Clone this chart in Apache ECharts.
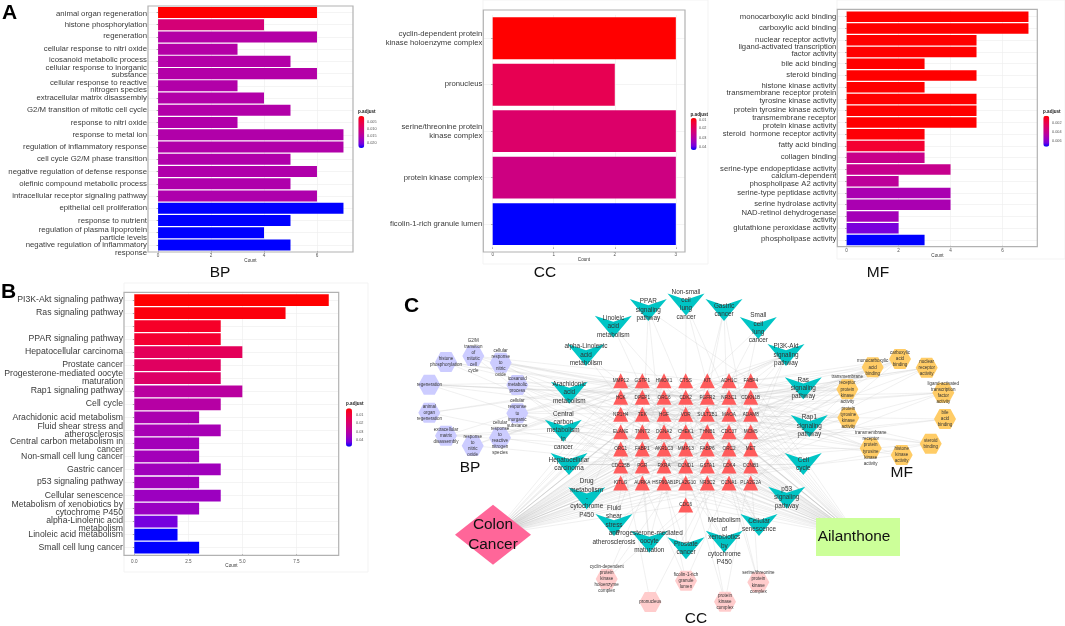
<!DOCTYPE html>
<html><head><meta charset="utf-8">
<style>html,body{margin:0;padding:0;background:#fff}#c{width:1065px;height:626px}</style>
<script src="https://cdn.jsdelivr.net/npm/echarts@6/dist/echarts.min.js"></script>
</head><body><div id="c"></div>
<script>
// ---------- bar chart data ----------
const bpTerms = ['animal organ regeneration','histone phosphorylation','regeneration','cellular response to nitri oxide','icosanoid metabolic process','cellular response to inorganic\nsubstance','cellular response to reactive\nnitrogen species','extracellular matrix disassembly','G2/M transition of mitotic cell cycle','response to nitri oxide','response to metal ion','regulation of inflammatory response','cell cycle G2/M phase transition','negative regulation of defense response','olefinic compound metabolic process','intracellular receptor signaling pathway','epithelial cell proliferation','response to nutrient','regulation of plasma lipoprotein\nparticle levels','negative regulation of inflammatory\nresponse'];
const bpCounts = [6,4,6,3,5,6,3,4,5,3,7,7,5,6,5,6,7,5,4,5];
const bpPadj = [0.0005,0.0105,0.0155,0.0155,0.0156,0.0156,0.0157,0.0157,0.0157,0.0158,0.0158,0.0158,0.0159,0.0159,0.0160,0.0161,0.0243,0.0243,0.0243,0.0243];
const ccTerms = ['cyclin-dependent protein\nkinase holoenzyme complex','pronucleus','serine/threonine protein\nkinase complex','protein kinase complex','ficolin-1-rich granule lumen'];
const ccCounts = [3,2,3,3,3];
const ccPadj = [0.0090,0.0180,0.0214,0.0252,0.0435];
const mfTerms = ['monocarboxylic acid binding','carboxylic acid binding','nuclear receptor activity','ligand-activated transcription\nfactor activity','bile acid binding','steroid binding','histone kinase activity','transmembrane receptor protein\ntyrosine kinase activity','protein tyrosine kinase activity','transmembrane receptor\nprotein kinase activity','steroid  hormone receptor activity','fatty acid binding','collagen binding','serine-type endopeptidase activity','calcium-dependent\nphospholipase A2 activity','serine-type peptidase activity','serine hydrolase activity','NAD-retinol dehydrogenase\nactivity','glutathione peroxidase activity','phospholipase activity'];
const mfCounts = [7,7,5,5,3,5,3,5,5,5,3,3,3,4,2,4,4,2,2,3];
const mfPadj = [0.0002,0.0002,0.0002,0.0002,0.0002,0.0002,0.0002,0.0002,0.0002,0.0002,0.0003,0.0011,0.0038,0.0039,0.0043,0.0050,0.0050,0.0052,0.0063,0.0073];
const kegTerms = ['PI3K-Akt signaling pathway','Ras signaling pathway',' ','PPAR signaling pathway','Hepatocellular carcinoma','Prostate cancer','Progesterone-mediated oocyte\nmaturation','Rap1 signaling pathway','Cell cycle','Arachidonic acid metabolism','Fluid shear stress and\natherosclerosis','Central carbon metabolism in\ncancer','Non-small cell lung cancer','Gastric cancer','p53 signaling pathway','Cellular senescence','Metabolism of xenobiotics by\ncytochrome P450','alpha-Linolenic acid\nmetabolism','Linoleic acid metabolism','Small cell lung cancer'];
const kegCounts = [9,7,4,4,5,4,4,5,4,3,4,3,3,4,3,4,3,2,2,3];
const kegPadj = [0.0023,0.0037,0.0069,0.0080,0.0155,0.0169,0.0182,0.0296,0.0305,0.0328,0.0337,0.0346,0.0346,0.0351,0.0351,0.0360,0.0364,0.0419,0.0478,0.0478];
const bpLegendTicks = ['0.005','0.010','0.015','0.020'];
const ccLegendTicks = ['0.01','0.02','0.03','0.04'];
const mfLegendTicks = ['0.002','0.004','0.006'];
const kegLegendTicks = ['0.01','0.02','0.03','0.04'];

// ---------- network data ----------
const geneRows = [
 ['MMP12','GSTP1','HMOX1','CTSS','KIT','ADH1C','FABP4'],
 ['HCK','DPEP1','ORC6','CDK2','FGFR2','NR3C1','CDKN1B'],
 ['NR1H4','TEK','HGF','VDR','SULT2B1','MAOA','ADAM8'],
 ['ELANE','TNNT2','DGNA2','CHEK1','THNB1','CDC37','MCM5'],
 ['ORC1','FABP1','AKR1C3','MMP13','FABP6','ORC2','MET'],
 ['CDC25B','PGR','RXRA','CCND1','GSTA1','CDK4','CCNB1'],
 ['KITLG','AURKA','HSP90AB1','PLA2G10','NR3C2','CCNA1','PLA2G2A']];
const loneGene = 'CDC6';
const bpNodes = ['histone\nphosphorylation','G2/M\ntransition\nof\nmitotic\ncell\ncycle','cellular\nresponse\nto\nnitric\noxide','icosanoid\nmetabolic\nprocess','regeneration','animal\norgan\nregeneration','cellular\nresponse\nto\ninorganic\nsubstance','extracellular\nmatrix\ndisassembly','response\nto\nnitric\noxide','cellular\nresponse\nto\nreactive\nnitrogen\nspecies'];
const mfNodes = ['monocarboxylic\nacid\nbinding','carboxylic\nacid\nbinding','nuclear\nreceptor\nactivity','ligand-activated\ntranscription\nfactor\nactivity','bile\nacid\nbinding','steroid\nbinding','histone\nkinase\nactivity','transmembrane\nreceptor\nprotein\ntyrosine\nkinase\nactivity','protein\ntyrosine\nkinase\nactivity','transmembrane\nreceptor\nprotein\nkinase\nactivity'];
const ccNodes = ['cyclin-dependent\nprotein\nkinase\nholoenzyme\ncomplex','pronucleus','ficolin-1-rich\ngranule\nlumen','protein\nkinase\ncomplex','serine/threonine\nprotein\nkinase\ncomplex'];
const pathNodes = ['Non-small\ncell\nlung\ncancer','PPAR\nsignaling\npathway','Linoleic\nacid\nmetabolism','alpha-Linolenic\nacid\nmetabolism','Arachidonic\nacid\nmetabolism','Central\ncarbon\nmetabolism\nin\ncancer','Gastric\ncancer','Small\ncell\nlung\ncancer','PI3K-Akt\nsignaling\npathway','Ras\nsignaling\npathway','Rap1\nsignaling\npathway','Hepatocellular\ncarcinoma','Cell\ncycle','Drug\nmetabolism\n-\ncytochrome\nP450','p53\nsignaling\npathway','Fluid\nshear\nstress\nand\natherosclerosis','Progesterone-mediated\noocyte\nmaturation','Prostate\ncancer','Metabolism\nof\nxenobiotics\nby\ncytochrome\nP450','Cellular\nsenescence'];
const bpLinks = [
 ['CDK2','CCND1','HGF','FGFR2'],
 ['AURKA','CHEK1','CDK2','KIT'],
 ['CCND1','CDK2','CDKN1B','HGF','FGFR2'],
 ['CCNB1','CDK2','CCNA1','CHEK1','AURKA'],
 ['CDK2','CCND1','HGF','FGFR2','HMOX1','NR3C1'],
 ['HMOX1','GSTP1','CCND1'],
 ['HMOX1','GSTP1','CCND1','MMP13','VDR','NR3C1'],
 ['MMP12','MMP13','ELANE','ADAM8'],
 ['HMOX1','GSTP1','CCND1'],
 ['HMOX1','GSTP1','CCND1']];
const mfLinks = [
 ['FABP4','FABP1','FABP6','AKR1C3','NR1H4','PLA2G10','PLA2G2A'],
 ['FABP4','FABP1','FABP6','AKR1C3','NR1H4','PLA2G10','PLA2G2A'],
 ['NR3C1','NR3C2','NR1H4','VDR','RXRA'],
 ['NR3C1','NR3C2','NR1H4','VDR','RXRA'],
 ['FABP1','FABP6','NR1H4'],
 ['VDR','PGR','NR3C1','NR3C2','NR1H4'],
 ['CHEK1','AURKA','CDK2'],
 ['KIT','MET','FGFR2','TEK','HCK'],
 ['KIT','MET','FGFR2','TEK','HCK'],
 ['KIT','MET','FGFR2','TEK','HCK']];
const ccLinks = [
 ['CDK2','CCND1','CDK4'],
 ['ORC1','ORC2'],
 ['CCNA1','ELANE','HSP90AB1'],
 ['CDK2','CCND1','CCNB1'],
 ['CDK4','CCNA1','CCNB1']];
const pathLinks = [
 ['CDK4','CCND1','MET'],
 ['FABP4','FABP1','FABP6','RXRA'],
 ['PLA2G10','PLA2G2A'],
 ['PLA2G10','PLA2G2A'],
 ['PLA2G10','PLA2G2A','AKR1C3'],
 ['KIT','MET','FGFR2'],
 ['CCND1','CDK4','FGFR2','MET'],
 ['CDK2','CDK4','CCND1'],
 ['KIT','KITLG','FGFR2','HGF','CDK2','CDK4','CCND1','MET','TEK'],
 ['KIT','KITLG','FGFR2','HGF','MET','TEK','PLA2G10'],
 ['KIT','KITLG','FGFR2','HGF','TEK'],
 ['CCND1','CDK4','GSTP1','GSTA1','MET'],
 ['CDK2','CDK4','CCND1','CHEK1'],
 ['GSTP1','MAOA','ADH1C','GSTA1'],
 ['CDK2','CCND1','CHEK1'],
 ['GSTP1','GSTA1','HMOX1','HSP90AB1'],
 ['CDK2','CCNB1','PGR','AURKA'],
 ['CDK2','CCND1','CDKN1B','HSP90AB1'],
 ['GSTP1','GSTA1','AKR1C3'],
 ['CDK2','CDK4','CCND1','CHEK1']];

// ---------- layout of the network (hidden axes, units = px) ----------
const colX = [620.7,642.3,664,685.7,707.3,729,750.7];
const rowY = [380.7,397.3,414.3,431.7,449,466,483];
const lonePos = [685.7,505];
const bpPos = [[446,362],[473.3,356],[500.7,362.7],[517.3,385],[429.3,384.7],[429.3,412.7],[517.3,413.3],[446,435.7],[472.7,445.7],[500,437.7]];
const mfPos = [[872.7,367.3],[900,359],[926.7,367.7],[943.3,392.7],[945,419],[930.7,443.7],[901.7,455],[870.7,448.3],[848.3,417.7],[847.3,389.3]];
const ccPos = [[606.7,579],[650.3,602],[686,580.7],[725,601.7],[758.3,582.3]];
const pathPos = [[686,304.5],[648.3,310],[613.3,326.7],[586,355],[569.3,392.7],[563.3,430.7],[724,310],[758.3,328],[786,355],[803.3,388.3],[809.3,426],[569,464],[803.3,464],[586.7,498.3],[786.7,497.7],[614,525],[649.3,541.7],[686,548.3],[724.3,541.7],[759,525]];
const colonPos = [493,534.7], ailanPos = [858,537];
// hand-placed label offsets seen in the figure (px, negative = up)
const bpNudge = [1,0,-1,0,-2,-2,0.7,0,-0.7,0,0,0,0,0,0,0,0,0,1,3.7];
const ccNudge = [0,-0.7,0,0,0];
const mfNudge = [0,-1,-0.7,-1.7,0,-0.7,-1.3,-1.8,-0.7,-0.7,-0.3,-1,-1,-1,-1.2,-0.3,-1,0,0,-0.7];
const kegNudge = [0,-0.7,0,-0.3,-0.7,-0.7,-0.3,-0.3,-0.7,0,0,2.3,0,-0.3,-1,0,0.3,2.5,0.3,0.3];

const FONT = '"Liberation Sans", Arial, sans-serif';
const HEX = 'path://M25,0 L75,0 L100,50 L75,100 L25,100 L0,50 Z';
const VEE = 'path://M0,0 L50,28 L100,0 L50,100 Z';
// ggplot's red-to-blue ramp is interpolated in Lab space
const RAMP = ['#ff0000','#f40031','#e80050','#da006c','#c90088','#b500a5','#9a00c2','#7500df','#0000ff'];

// ---------- network build ----------
const nodes = [], links = [];
function addNode(name, pos, symbol, size, color, fontSize, lineHeight, extra) {
  nodes.push({name, value:pos, symbol, symbolSize:size, itemStyle:{color},
    label:Object.assign({show:true, position:'inside', formatter:'{b}', color:'#333', fontSize, lineHeight, fontFamily:FONT},extra||{})});
}
geneRows.forEach((row,r)=>row.forEach((g,c)=>addNode(g,[colX[c],rowY[r]],'triangle',[15,15],'#ff5c5c',4.7,6)));
addNode(loneGene,lonePos,'triangle',[15,15],'#ff5c5c',4.7,6);
function group(labels,pos,lk,symbol,size,color,fs,lh){
  labels.forEach((l,i)=>{addNode(l,pos[i],symbol,size,color,fs,lh);
    lk[i].forEach(g=>links.push({source:l,target:g,lineStyle:{color:'#c4c4c4',width:.5,opacity:.5}}));});
}
group(bpNodes,bpPos,bpLinks,HEX,[22,20],'#ccccff',4.5,6.1);
group(mfNodes,mfPos,mfLinks,HEX,[22,20],'#ffcc66',4.5,6.1);
group(ccNodes,ccPos,ccLinks,HEX,[22,20],'#ffcccc',4.5,6.1);
group(pathNodes,pathPos,pathLinks,VEE,[37,22],'#00c5c5',6.4,8.4);
const allGenes = geneRows.flat().concat(loneGene);
addNode('Colon\nCancer',colonPos,'diamond',[76,60],'#ff6699',15.4,20.5,{color:'#111'});
addNode('Ailanthone',ailanPos,'rect',[84,38],'#ccff99',15.4,18,{color:'#111',offset:[-4,0]});
allGenes.forEach(g=>{
  links.push({source:'Colon\nCancer',target:g,lineStyle:{color:'#a0a0a0',width:.5,opacity:.32}});
  links.push({source:'Ailanthone',target:g,lineStyle:{color:'#a0a0a0',width:.5,opacity:.32}});
});

// ---------- panels ----------
const panels = [
 {terms:bpTerms,counts:bpCounts,padj:bpPadj,nudge:bpNudge,box:[148,6,205,246],band:[6.3,244.8],xr:[-0.38,7.36],ticks:[0,2,4,6],fs:7.8,lh:7.4,
  tickFmt:v=>String(v),vm:[358.3,116,32,0.0005,0.0243],legendTicks:bpLegendTicks,legendY:[122,128.7,135.7,142.7],titleY:112,titleX:358,labelX:367,xTitle:[250.5,261],tickY:2.5,outer:null},
 {terms:ccTerms,counts:ccCounts,padj:ccPadj,nudge:ccNudge,box:[483.3,10,201.7,242],band:[15,232.4],xr:[-0.154,3.15],ticks:[0,1,2,3],fs:7.7,lh:9.3,
  tickFmt:v=>String(v),vm:[690.7,118,32,0.009,0.0435],legendTicks:ccLegendTicks,legendY:[119.5,128,137.5,146.7],titleY:115,titleX:690.5,labelX:699,xTitle:[584,260],tickY:5,outer:[483,0,225,264]},
 {terms:mfTerms,counts:mfCounts,padj:mfPadj,nudge:mfNudge,box:[837.3,9.3,200,237.4],band:[10.8,235],xr:[-0.36,7.34],ticks:[0,2,4,6],fs:7.7,lh:7.5,
  tickFmt:v=>String(v),vm:[1043.3,115.7,31,0.0002,0.0073],legendTicks:mfLegendTicks,legendY:[123.3,132.3,140.7],titleY:112,titleX:1043,labelX:1052,xTitle:[937.5,255.5],tickY:2,outer:[837,0,228,259]},
 {terms:kegTerms,counts:kegCounts,padj:kegPadj,nudge:kegNudge,box:[124,292.3,214.7,263],band:[293.5,260.7],xr:[-0.477,9.46],ticks:[0,2.5,5,7.5],fs:8.7,lh:8,
  tickFmt:v=>v.toFixed(1),vm:[346,408.3,38.4,0.0023,0.0478],legendTicks:kegLegendTicks,legendY:[415,423.3,431.7,440],titleY:403.7,titleX:346,labelX:356,xTitle:[231.5,566],tickY:5,outer:[124,283,244,289]}
];

const grid=[],xAxis=[],yAxis=[],series=[],visualMap=[],graphic=[];
panels.forEach((p,i)=>{
  grid.push({left:p.box[0],width:p.box[2],top:p.band[0],height:p.band[1],containLabel:false});
  xAxis.push({type:'value',gridIndex:i,min:p.xr[0],max:p.xr[1],
    axisLine:{show:false},
    axisTick:{show:true,length:1.5,customValues:p.ticks,lineStyle:{color:'#555',width:.5}},
    axisLabel:{show:true,customValues:p.ticks,formatter:p.tickFmt,fontSize:4.6,color:'#555',margin:p.tickY,fontFamily:FONT,hideOverlap:false,showMinLabel:true,showMaxLabel:true},
    splitLine:{show:true,lineStyle:{color:'#ececec',width:.6}}});
  // a spacer line, of twice the offset, above or below a label moves it by the offset
  const rich={t:{fontSize:p.fs,lineHeight:p.lh,color:'#3a3a3a',fontFamily:FONT,align:'right'}};
  p.nudge.forEach((n,k)=>{if(n)rich['g'+k]={fontSize:1,lineHeight:2*Math.abs(n),color:'rgba(0,0,0,0)'};});
  yAxis.push({type:'category',gridIndex:i,inverse:true,data:p.terms,
    axisLine:{show:false},
    axisTick:{show:true,length:1.5,alignWithLabel:true,lineStyle:{color:'#555',width:.5}},
    axisLabel:{interval:0,fontSize:p.fs,lineHeight:p.lh,color:'#3a3a3a',margin:1,fontFamily:FONT,rich,
      formatter:(v,idx)=>{
        const n=p.nudge[idx], body=v.split('\n').map(s=>'{t|'+s+'}').join('\n');
        return n>0?'{g'+idx+'| }\n'+body:(n<0?body+'\n{g'+idx+'| }':body);
      }},
    splitLine:{show:true,alignWithLabel:true,lineStyle:{color:'#ececec',width:.6}}});
  series.push({type:'bar',xAxisIndex:i,yAxisIndex:i,barCategoryGap:'10%',silent:true,
    encode:{x:0,y:1},data:p.counts.map((c,k)=>[c,k,p.padj[k]])});
  visualMap.push({type:'continuous',seriesIndex:i,dimension:2,min:p.vm[3],max:p.vm[4],inverse:true,
    left:p.vm[0],top:p.vm[1],itemWidth:6,itemHeight:p.vm[2],padding:0,calculable:false,text:null,showLabel:false,
    inRange:{color:RAMP},textStyle:{fontSize:1,color:'#fff'}});
  if(p.outer) graphic.push({type:'rect',silent:true,z:-1,shape:{x:p.outer[0],y:p.outer[1],width:p.outer[2],height:p.outer[3]},style:{fill:'none',stroke:'#f3f3f3',lineWidth:1}});
  graphic.push({type:'rect',silent:true,z:50,shape:{x:p.box[0],y:p.box[1],width:p.box[2],height:p.box[3]},style:{fill:'none',stroke:'#b2b2b2',lineWidth:1.2}});
  graphic.push({type:'text',silent:true,z:50,x:p.titleX,y:p.titleY,style:{text:'p.adjust',font:'bold 4.6px '+FONT,fill:'#222',textVerticalAlign:'middle'}});
  p.legendTicks.forEach((t,k)=>graphic.push({type:'text',silent:true,z:50,x:p.labelX,y:p.legendY[k],style:{text:t,font:'3.8px '+FONT,fill:'#555',textVerticalAlign:'middle'}}));
  graphic.push({type:'text',silent:true,z:50,x:p.xTitle[0],y:p.xTitle[1],style:{text:'Count',font:'4.6px '+FONT,fill:'#333',textAlign:'center',textVerticalAlign:'middle'}});
});
// hidden axes for the network
grid.push({left:0,top:0,width:1065,height:626,show:false});
xAxis.push({type:'value',gridIndex:4,min:0,max:1065,show:false});
yAxis.push({type:'value',gridIndex:4,min:0,max:626,inverse:true,show:false});
series.push({type:'graph',coordinateSystem:'cartesian2d',xAxisIndex:4,yAxisIndex:4,layout:'none',silent:true,roam:false,z:5,
  data:nodes,links,edgeSymbol:['none','none']});

[['A',2,13],['B',1,292],['C',404,306]].forEach(a=>graphic.push({type:'text',silent:true,z:60,x:a[1],y:a[2],style:{text:a[0],font:'bold 21px "Liberation Sans", Arial',fill:'#000',textVerticalAlign:'middle'}}));
[['BP',220,272.5],['CC',545,272.5],['MF',878,273],['BP',470,468],['MF',901.7,473],['CC',696,619]].forEach(a=>graphic.push({type:'text',silent:true,z:60,x:a[1],y:a[2],style:{text:a[0],font:'15.5px "Liberation Sans", Arial',fill:'#111',textAlign:'center',textVerticalAlign:'middle'}}));

const chart = echarts.init(document.getElementById('c'),null,{renderer:'canvas'});
chart.setOption({animation:false,backgroundColor:'#fff',textStyle:{fontFamily:FONT},grid,xAxis,yAxis,visualMap,series,graphic});
</script></body></html>
